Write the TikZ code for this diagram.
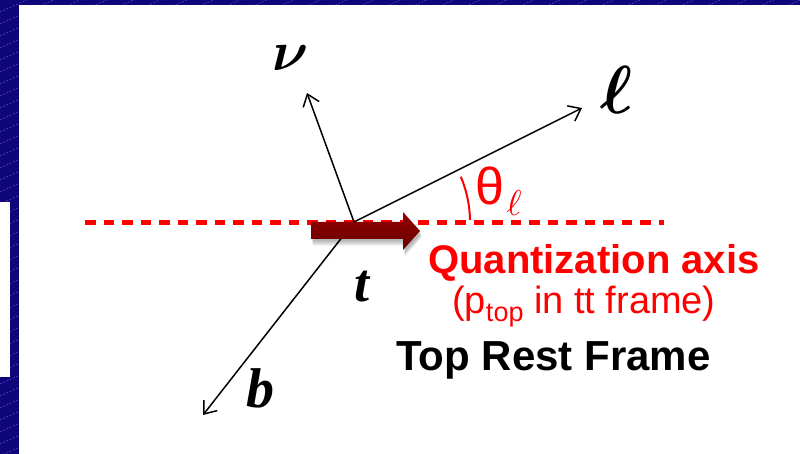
\documentclass[tikz,border=0pt]{standalone}
\usepackage{fontspec}
\usepackage{bm}
\setmainfont{Liberation Sans}
\newfontfamily\timesf{Liberation Serif}
\usetikzlibrary{arrows.meta}
\definecolor{navy}{RGB}{14,6,122}
\definecolor{stripecol}{RGB}{80,60,175}
\definecolor{qred}{RGB}{255,0,0}
\definecolor{blockred}{RGB}{125,0,0}
\newcommand\qarrowpath{(311,222) -- (403,222) -- (403,212) -- (420,231) -- (403,250) -- (403,239) -- (311,239) -- cycle}
\tikzset{
  vec/.style={line width=1.5pt, -{Straight Barb[length=11pt,width=17pt,line width=1.5pt]}},
  mathlab/.style={inner sep=0pt, font=\timesf\bfseries\itshape\fontsize{56}{56}\selectfont},
  axisline/.style={qred, line width=5pt, dash pattern=on 10.5pt off 8pt},
  redtext/.style={inner sep=0pt, text=qred, anchor=base west},
}
\begin{document}
\begin{tikzpicture}[x=1pt,y=-1pt]
\useasboundingbox (0,0) rectangle (800,454);
% background
\fill[navy] (0,0) rectangle (800,454);
\foreach \i in {0,...,72} \draw[stripecol, line width=0.7pt, dash pattern=on 2pt off 1.5pt] (0,12*\i) -- (800,12*\i-360);
\fill[white] (19,5) rectangle (800,454);
\fill[white] (0,202) rectangle (10,377);
% points
\coordinate (t0) at (354,222);
\coordinate (nutip) at (307,93);
\coordinate (elltip) at (582,108);
\coordinate (btip) at (203,415);
\coordinate (axL) at (85,223);
\coordinate (axR) at (664,223);
% quantization axis
\draw[axisline] (axL) -- (axR);
% b line (behind block arrow)
\draw[vec] (t0) -- (btip);
% block arrow with shadow
\foreach \k in {1,...,6} \fill[black, opacity=0.05, shift={(1.5,1+\k)}] \qarrowpath;
\shade[top color=blockred!80!red, bottom color=blockred!85!black, middle color=blockred] \qarrowpath;
% nu and lepton
\draw[vec] (t0) -- (nutip);
\draw[vec] (t0) -- (elltip);
% angle
\draw[qred, line width=2pt] (t0) ++(-1:116) arc[start angle=-1, end angle=-23, radius=116];
% labels
\node[inner sep=0pt, scale=5.6] (nulab) at (291,58) {$\bm{\nu}$};
\node[inner sep=0pt, scale=6.8] (elllab) at (617,90) {$\bm{\ell}$};
\node[mathlab] (blab) at (260,388) {b};
\node[mathlab, font=\timesf\bfseries\itshape\fontsize{54}{54}\selectfont] (tlab) at (362,287) {t};
\node[inner sep=0pt, text=qred, font=\fontsize{52}{52}\selectfont] (thlab) at (490,186) {θ};
\node[inner sep=0pt, text=qred, scale=3.6] (thsub) at (514,203) {$\ell$};
\node[redtext, font=\bfseries\fontsize{40}{40}\selectfont] (qlab) at (428,273) {Quantization axis};
\node[redtext, font=\fontsize{38}{38}\selectfont] (plab) at (452,313) {(p\raisebox{-8pt}{\fontsize{27}{27}\selectfont top} in tt frame)};
\node[inner sep=0pt, anchor=base west, font=\bfseries\fontsize{42}{42}\selectfont] (rflab) at (396,370) {Top Rest Frame};
\end{tikzpicture}
\end{document}
